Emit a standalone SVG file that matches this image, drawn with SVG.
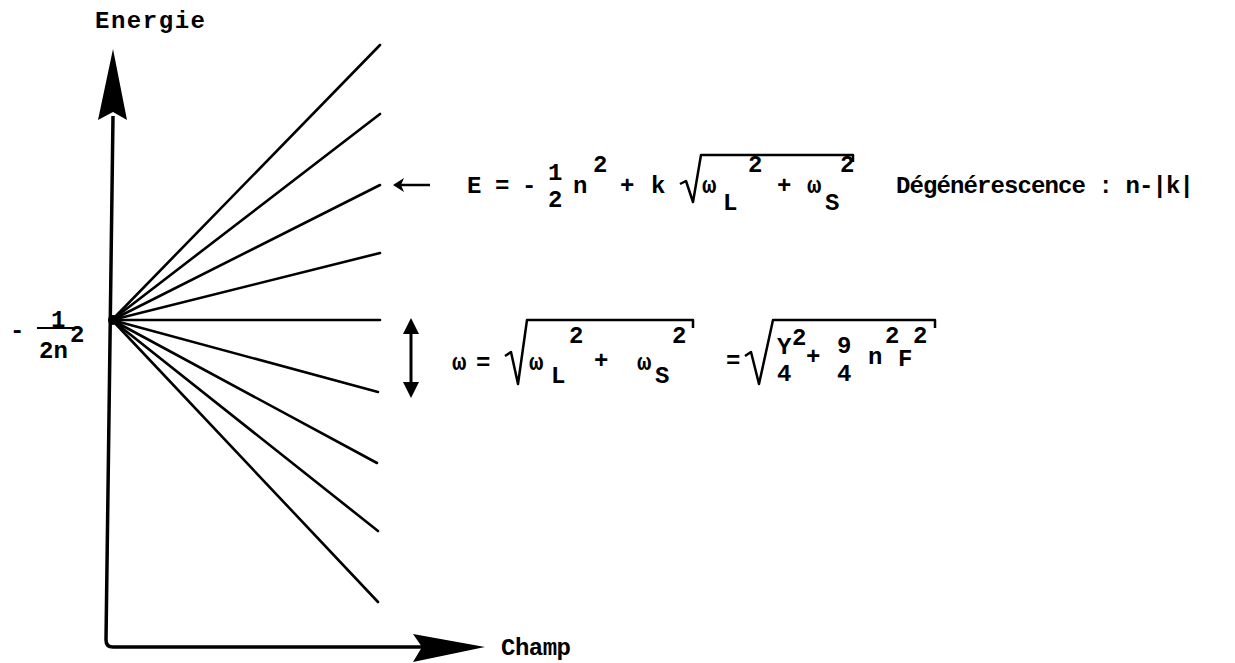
<svg xmlns="http://www.w3.org/2000/svg" width="1235" height="663" viewBox="0 0 1235 663">
<style>
.t{font-family:"Liberation Mono","DejaVu Sans Mono",monospace;font-weight:bold;font-size:24px;fill:#000}
.ln{stroke:#000;stroke-width:2.6;fill:none;stroke-linecap:round}
.ax{stroke:#000;stroke-width:3.5;fill:none;stroke-linejoin:round}
.hd{fill:#000;stroke:none}
.rad{stroke:#000;stroke-width:2.5;fill:none;stroke-linejoin:round}
</style>
<rect width="1235" height="663" fill="#fff"/>
<g id="axes">
<path class="ax" d="M113,116 L106,640 Q106,647 113,647 L424,647"/>
<path class="hd" d="M113,49 L127,120 L113,112 L98,120 Z"/>
<path class="hd" d="M485,647 L413,634 L422,647 L413,662 Z"/>
</g>
<g id="connectors">
<line class="ln" x1="112" y1="320" x2="380" y2="45"/>
<line class="ln" x1="112" y1="320" x2="380" y2="114"/>
<line class="ln" x1="112" y1="320" x2="380" y2="185"/>
<line class="ln" x1="112" y1="320" x2="380" y2="253"/>
<line class="ln" x1="112" y1="320" x2="380" y2="320"/>
<line class="ln" x1="112" y1="320" x2="378" y2="392"/>
<line class="ln" x1="112" y1="320" x2="377" y2="463"/>
<line class="ln" x1="112" y1="320" x2="378" y2="531"/>
<line class="ln" x1="112" y1="320" x2="378" y2="602"/>
<circle cx="113" cy="320" r="5" fill="#000"/>
</g>
<g id="label-energie"><text class="t" x="95" y="28" font-size="26" textLength="110" lengthAdjust="spacing">Energie</text></g>
<g id="label-champ"><text class="t" x="501" y="655" textLength="70" lengthAdjust="spacing">Champ</text></g>
<g id="label-level">
<text class="t" x="10" y="338">-</text>
<text class="t" x="51" y="327">1</text>
<line x1="37" y1="328" x2="78" y2="328" stroke="#000" stroke-width="2"/>
<text class="t" x="39" y="358">2n</text>
<text class="t" x="70" y="342">2</text>
</g>
<g id="formula-E">
<line x1="398" y1="185" x2="430" y2="185" stroke="#000" stroke-width="2.5"/>
<path class="hd" d="M393,185 L404,178 L401,185 L404,192 Z"/>
<text class="t" x="467" y="193">E</text>
<text class="t" x="495" y="193">=</text>
<text class="t" x="522" y="193">-</text>
<text class="t" x="548" y="180">1</text>
<text class="t" x="548" y="207">2</text>
<text class="t" x="573" y="193">n</text>
<text class="t" x="593" y="172">2</text>
<text class="t" x="620" y="193">+</text>
<text class="t" x="651" y="193">k</text>
<path class="rad" d="M680,184 L686,181 L693,202 L701,155 L853,155 L853,162"/>
<text class="t" x="702" y="193">ω</text>
<text class="t" x="723" y="210">L</text>
<text class="t" x="748" y="172">2</text>
<text class="t" x="777" y="193">+</text>
<text class="t" x="807" y="193">ω</text>
<text class="t" x="825" y="210">S</text>
<text class="t" x="840" y="172">2</text>
<text class="t" x="896" y="193" textLength="298" lengthAdjust="spacing">Dégénérescence : n-|k|</text>
</g>
<g id="formula-omega">
<line x1="411" y1="330" x2="411" y2="386" stroke="#000" stroke-width="3"/>
<path class="hd" d="M411,318 L419,334 L403,334 Z"/>
<path class="hd" d="M411,398 L419,382 L403,382 Z"/>
<text class="t" x="452" y="370">ω</text>
<text class="t" x="476" y="370">=</text>
<path class="rad" d="M505,356 L511,352 L518,384 L527,320 L693,320 L693,328"/>
<text class="t" x="529" y="370">ω</text>
<text class="t" x="551" y="383">L</text>
<text class="t" x="569" y="343">2</text>
<text class="t" x="594" y="368">+</text>
<text class="t" x="637" y="370">ω</text>
<text class="t" x="655" y="383">S</text>
<text class="t" x="672" y="343">2</text>
<text class="t" x="726" y="368">=</text>
<path class="rad" d="M745,356 L751,352 L759,384 L773,320 L935,320 L935,328"/>
<text class="t" x="777" y="354">Y</text>
<text class="t" x="792" y="345">2</text>
<text class="t" x="777" y="381">4</text>
<text class="t" x="806" y="364">+</text>
<text class="t" x="837" y="353">9</text>
<text class="t" x="837" y="381">4</text>
<text class="t" x="868" y="364">n</text>
<text class="t" x="885" y="343">2</text>
<text class="t" x="898" y="366">F</text>
<text class="t" x="913" y="343">2</text>
</g>
</svg>
